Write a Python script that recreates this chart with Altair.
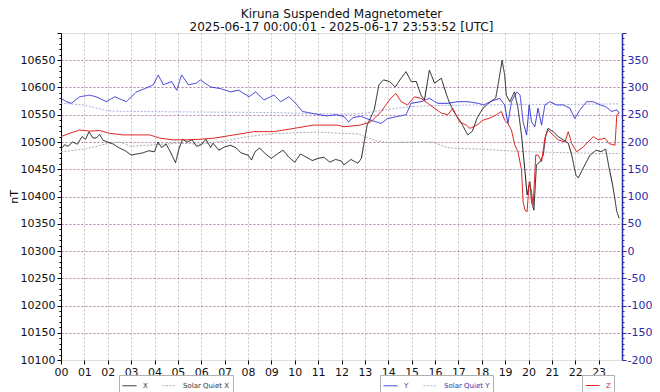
import altair as alt
import pandas as pd

# ---------------- data ----------------
X_HOURS = [0.0, 0.15, 0.3, 0.5, 0.7, 0.9, 1.05, 1.2, 1.35, 1.5, 1.65, 1.8, 2.0, 2.2, 2.5, 2.75,
           3.0, 3.25, 3.5, 3.75, 4.0, 4.15, 4.3, 4.5, 4.7, 4.9, 5.05, 5.2, 5.4, 5.6, 5.8, 6.0,
           6.2, 6.4, 6.5, 6.75, 7.0, 7.25, 7.5, 7.7, 8.0, 8.15, 8.3, 8.5, 8.75, 9.0, 9.25, 9.5,
           9.75, 10.0, 10.25, 10.5, 10.75, 11.0, 11.25, 11.5, 11.75, 12.0, 12.1, 12.4, 12.7, 12.85,
           13.0, 13.1, 13.25, 13.4, 13.6, 13.8, 14.05, 14.3, 14.5, 14.76, 14.98, 15.2, 15.4, 15.55,
           15.76, 15.98, 16.27, 16.5, 16.6, 16.8, 17.1, 17.4, 17.6, 17.8, 18.05, 18.3, 18.6, 18.77,
           18.87, 18.98, 19.05, 19.2, 19.4, 19.55, 19.7, 19.85, 19.94, 20.06, 20.13, 20.23, 20.34,
           20.5, 20.63, 20.74, 20.84, 21.05, 21.27, 21.48, 21.7, 21.85, 22.03, 22.13, 22.34, 22.63,
           22.9, 23.1, 23.3, 23.45, 23.6, 23.78, 23.88]
X_VALUES = [10487, 10495, 10492, 10500, 10496, 10510, 10505, 10519, 10508, 10507, 10514, 10503,
            10500, 10497, 10489, 10484, 10476, 10478, 10480, 10484, 10482, 10500, 10490, 10496,
            10480, 10462, 10488, 10505, 10500, 10504, 10492, 10495, 10505, 10490, 10498, 10485,
            10491, 10494, 10489, 10480, 10476, 10467, 10482, 10489, 10478, 10470, 10478, 10485,
            10472, 10463, 10478, 10472, 10466, 10470, 10472, 10463, 10468, 10465, 10458, 10468,
            10461, 10470, 10507, 10531, 10545, 10559, 10605, 10614, 10611, 10601, 10614, 10629,
            10611, 10611, 10586, 10577, 10632, 10608, 10617, 10586, 10574, 10556, 10537, 10513,
            10520, 10544, 10562, 10571, 10581, 10623, 10650, 10623, 10586, 10574, 10592, 10562,
            10513, 10446, 10403, 10427, 10390, 10375, 10458, 10464, 10476, 10513, 10525, 10519,
            10510, 10504, 10498, 10476, 10439, 10434, 10452, 10476, 10485, 10482, 10487, 10452,
            10421, 10372, 10360]

SQX_HOURS = [0, 1, 2, 2.5, 3, 4, 5, 6, 7, 8, 9, 10, 11, 12, 12.7, 13.5, 14, 15, 15.9, 16.5,
             17, 18, 19, 20, 21, 22, 23, 23.9]
SQX_VALUES = [10482, 10487, 10497, 10500, 10492, 10495, 10498, 10496, 10502, 10510, 10515,
              10517, 10518, 10516, 10515, 10502, 10499, 10500, 10500, 10490, 10488, 10487,
              10484, 10482, 10481, 10480, 10479, 10479]

# Y is read against the right-hand axis
Y_HOURS = [0.0, 0.23, 0.44, 0.8, 1.23, 1.5, 1.94, 2.3, 2.8, 3.23, 3.59, 3.95, 4.16, 4.38, 4.73,
           4.95, 5.16, 5.45, 5.8, 5.96, 6.4, 6.82, 7.25, 7.6, 8.04, 8.33, 8.68, 9.11, 9.4, 9.75,
           10.04, 10.33, 10.69, 11.04, 11.4, 11.76, 12.1, 12.3, 12.5, 12.83, 13.26, 13.7, 13.97,
           14.4, 14.76, 14.98, 15.4, 15.76, 16.12, 16.55, 16.98, 17.4, 17.84, 18.1, 18.35, 18.77,
           18.98, 19.12, 19.27, 19.5, 19.64, 19.77, 19.92, 20.03, 20.13, 20.27, 20.41, 20.56,
           20.7, 20.91, 21.2, 21.48, 21.77, 21.98, 22.2, 22.49, 22.77, 23.06, 23.3, 23.56, 23.78,
           23.88]
Y_VALUES = [280, 274, 271, 283, 286, 283, 274, 283, 274, 292, 298, 305, 323, 305, 311, 295, 323,
            305, 308, 314, 301, 298, 292, 295, 283, 292, 277, 286, 274, 283, 271, 256, 253, 250,
            248, 250, 247, 237, 245, 247, 240, 234, 243, 247, 250, 271, 274, 280, 271, 271, 274,
            274, 271, 268, 274, 280, 268, 234, 274, 292, 286, 237, 213, 268, 237, 228, 262, 231,
            268, 274, 268, 268, 262, 243, 259, 274, 274, 268, 265, 256, 259, 253]

SQY_HOURS = [0, 1, 2, 3, 6, 9, 11, 12.3, 13, 14, 15, 16, 18, 20, 22, 23.9]
SQY_VALUES = [271, 268, 257, 256, 255, 254, 252, 251, 253, 260, 265, 267, 268, 269, 269, 270]

Z_HOURS = [0.0, 0.37, 0.8, 1.23, 1.66, 2.08, 2.66, 3.23, 3.8, 4.23, 4.8, 5.38, 5.95, 6.54, 7.4,
           8.25, 9.1, 9.97, 10.8, 11.83, 12.1, 12.8, 13.26, 13.7, 14.1, 14.33, 14.55, 14.83, 15.12,
           15.4, 15.69, 15.98, 16.27, 16.55, 16.76, 17.05, 17.34, 17.5, 17.8, 18.05, 18.35, 18.63,
           18.84, 18.98, 19.12, 19.27, 19.41, 19.55, 19.7, 19.77, 19.85, 19.94, 20.03, 20.13,
           20.2, 20.31, 20.41, 20.56, 20.7, 20.84, 21.05, 21.27, 21.56, 21.7, 21.85, 22.06, 22.34,
           22.77, 22.98, 23.27, 23.45, 23.7, 23.78, 23.88]
Z_VALUES = [10510, 10516, 10522, 10520, 10521, 10516, 10513, 10513, 10513, 10507, 10504, 10504,
            10505, 10507, 10513, 10519, 10519, 10525, 10531, 10531, 10528, 10531, 10537, 10556,
            10580, 10589, 10574, 10568, 10583, 10580, 10571, 10562, 10553, 10550, 10562, 10537,
            10531, 10525, 10531, 10540, 10544, 10550, 10556, 10540, 10534, 10522, 10495, 10482,
            10449, 10390, 10375, 10372, 10427, 10409, 10384, 10476, 10476, 10464, 10507, 10522,
            10513, 10504, 10500, 10519, 10497, 10482, 10491, 10510, 10504, 10507, 10497, 10494,
            10550, 10553]

HOUR_TICKS = list(range(0, 24))
LEFT_TICKS = list(range(10100, 10701, 10))
RIGHT_TICKS = list(range(-200, 401, 10))

TITLE = ["Kiruna Suspended Magnetometer", "2025-06-17 00:00:01 - 2025-06-17 23:53:52 [UTC]"]


def frame(hours, values, name):
    return pd.DataFrame({"hour": hours, "value": values, "series": name})


x_df = pd.concat([frame(SQX_HOURS, SQX_VALUES, "Solar Quiet X"), frame(X_HOURS, X_VALUES, "X")])
y_df = pd.concat([frame(SQY_HOURS, SQY_VALUES, "Solar Quiet Y"), frame(Y_HOURS, Y_VALUES, "Y")])
z_df = frame(Z_HOURS, Z_VALUES, "Z")

FONT = "DejaVu Sans"
BLUE_AX = "#2b2ba8"

x_enc = alt.X(
    "hour:Q",
    scale=alt.Scale(domain=[0, 24], nice=False, zero=False),
    axis=alt.Axis(
        values=HOUR_TICKS,
        labelExpr="(datum.value < 10 ? '0' : '') + datum.value",
        labelFlush=False,
        title=None,
        grid=True,
        gridColor="#b8b8b8",
        gridDash=[2, 2],
        gridWidth=0.8,
        tickSize=4,
        tickColor="#000",
        domain=False,
        labelFontSize=11,
        labelColor="#111",
        labelFont=FONT,
        labelPadding=2,
    ),
)


def legend_props(lx, ly, color, ncol):
    return dict(
        title=None,
        orient="none",
        legendX=lx,
        legendY=ly,
        direction="horizontal",
        columns=ncol,
        fillColor="white",
        strokeColor="#b0b0b0",
        padding=3,
        cornerRadius=0,
        labelFontSize=7,
        labelFont=FONT,
        labelColor=color,
        symbolType="stroke",
        symbolSize=196,
        symbolStrokeWidth=1,
        columnPadding=12,
        labelOffset=6,
    )


left_axis = alt.Axis(
    values=LEFT_TICKS,
    labelExpr="(datum.value % 50 === 0 && datum.value < 10700) ? datum.label : ''",
    format="d",
    title="nT",
    titleFontSize=11,
    titleFont=FONT,
    titleFontWeight="normal",
    titlePadding=1,
    labelFontSize=11,
    labelFont=FONT,
    labelColor="#111",
    tickColor="#000",
    domainColor="#000",
    tickSize={"condition": {"test": "datum.value % 50 === 0", "value": 4}, "value": 2},
    grid=True,
    gridColor="#7a3a7a",
    gridDash=[2, 2],
    gridWidth=0.8,
    gridOpacity={"condition": {"test": "datum.value % 50 === 0 && datum.value > 10100 && datum.value < 10700", "value": 0.8}, "value": 0},
    labelPadding=2,
)

right_axis = alt.Axis(
    orient="right",
    values=RIGHT_TICKS,
    labelExpr="(datum.value % 50 === 0 && datum.value < 400) ? ('' + datum.value) : ''",
    title=None,
    labelFontSize=11,
    labelFont=FONT,
    labelColor=BLUE_AX,
    tickColor=BLUE_AX,
    domainColor=BLUE_AX,
    domainWidth=1.5,
    tickSize={"condition": {"test": "datum.value % 50 === 0", "value": 4}, "value": 2},
    grid=False,
    labelPadding=1,
)

layer_x = alt.Chart(x_df).mark_line(strokeWidth=1).encode(
    x=x_enc,
    y=alt.Y("value:Q", scale=alt.Scale(domain=[10100, 10700], nice=False, zero=False), axis=left_axis),
    color=alt.Color(
        "series:N",
        scale=alt.Scale(domain=["X", "Solar Quiet X"], range=["#1a1a1a", "#ababab"]),
        legend=alt.Legend(**legend_props(58, 342, "#333333", 2)),
    ),
    strokeDash=alt.StrokeDash(
        "series:N",
        scale=alt.Scale(domain=["X", "Solar Quiet X"], range=[[1, 0], [2, 1.5]]),
        legend=alt.Legend(**legend_props(58, 342, "#333333", 2)),
    ),
)

layer_y = alt.Chart(y_df).mark_line(strokeWidth=1).encode(
    x=x_enc,
    y=alt.Y("value:Q", scale=alt.Scale(domain=[-200, 400], nice=False, zero=False), axis=right_axis),
    color=alt.Color(
        "series:N",
        scale=alt.Scale(domain=["Y", "Solar Quiet Y"], range=["#2f2fd6", "#aab0dc"]),
        legend=alt.Legend(**legend_props(319, 342, "#3434b0", 2)),
    ),
    strokeDash=alt.StrokeDash(
        "series:N",
        scale=alt.Scale(domain=["Y", "Solar Quiet Y"], range=[[1, 0], [2, 1.5]]),
        legend=alt.Legend(**legend_props(319, 342, "#3434b0", 2)),
    ),
)

layer_z = alt.Chart(z_df).mark_line(strokeWidth=1).encode(
    x=x_enc,
    y=alt.Y("value:Q", scale=alt.Scale(domain=[10100, 10700], nice=False, zero=False), axis=None),
    color=alt.Color(
        "series:N",
        scale=alt.Scale(domain=["Z"], range=["#e02626"]),
        legend=alt.Legend(**legend_props(521, 342, "#d03030", 1)),
    ),
)

chart = (
    alt.layer(layer_x, layer_y, layer_z)
    .resolve_scale(y="independent", color="independent", strokeDash="independent")
    .properties(
        width=561,
        height=327,
        padding={"left": 53, "top": 25, "right": 30, "bottom": 36},
        autosize=alt.AutoSizeParams(type="none"),
        title=alt.TitleParams(
            TITLE,
            anchor="middle",
            fontSize=12,
            font=FONT,
            fontWeight="normal",
            color="#111",
            lineHeight=13,
            offset=-1.5,
        ),
    )
    .configure_view(stroke="#3c3c3c", strokeWidth=2)
    .configure(background="white")
)

chart.save("out.html", embed_options={"renderer": "svg", "actions": False})
